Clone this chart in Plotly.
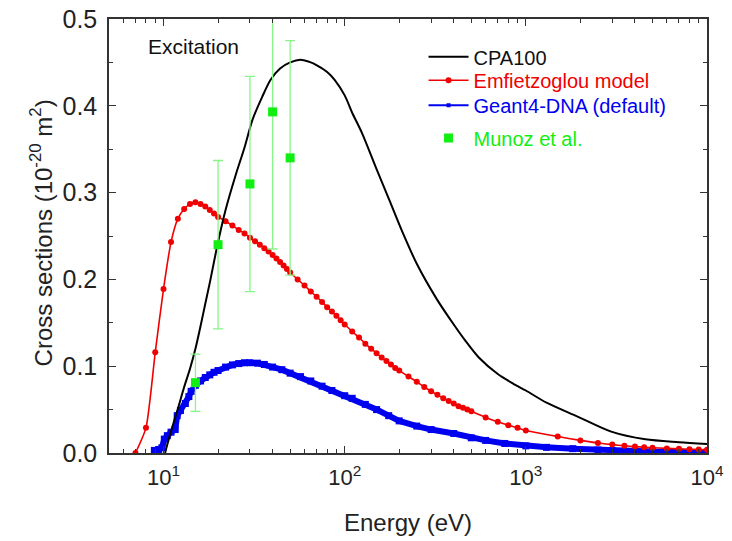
import plotly.graph_objects as go

# ---- data ----
cpa_E = [10.2, 10.5, 11, 12, 13, 14, 15, 16, 17, 18, 20, 22, 25, 28, 31, 35, 39, 44, 50, 57,
         65, 71, 80, 88, 100, 110, 125, 148, 176, 209, 250, 323, 400, 461, 550, 700, 850,
         1000, 1300, 1930, 2960, 4570, 7000, 10000]
cpa_sigma = [0.000, 0.010, 0.025, 0.051, 0.076, 0.097, 0.120, 0.146, 0.172, 0.196, 0.243,
             0.280, 0.320, 0.352, 0.384, 0.410, 0.430, 0.443, 0.450, 0.453, 0.450, 0.446,
             0.439, 0.430, 0.412, 0.392, 0.368, 0.330, 0.292, 0.254, 0.218, 0.177, 0.148,
             0.130, 0.110, 0.091, 0.080, 0.072, 0.058, 0.042, 0.0246, 0.0158, 0.0125, 0.0104]

emf_E = [7, 8, 9, 10, 11, 12, 13, 14, 15, 16, 17, 18, 19, 20, 22, 24, 26, 28, 30, 32, 34, 36,
         38, 40, 42, 44, 46, 48, 50, 55, 60, 65, 70, 75, 80, 85, 90, 95, 100, 110, 120, 130,
         140, 150, 160, 170, 180, 190, 200, 225, 250, 275, 300, 325, 350, 375, 400, 425, 450,
         475, 500, 600, 700, 800, 900, 1000, 1500, 2000, 2500, 3000, 3500, 4000, 4500, 5000,
         6000, 7000, 8000, 9000, 10000]
emf_sigma = [0.000, 0.029, 0.116, 0.189, 0.243, 0.270, 0.281, 0.287, 0.289, 0.287, 0.284,
             0.280, 0.276, 0.272, 0.267, 0.262, 0.257, 0.253, 0.248, 0.244, 0.240, 0.236,
             0.232, 0.228, 0.224, 0.220, 0.216, 0.212, 0.208, 0.200, 0.193, 0.186, 0.180,
             0.174, 0.168, 0.163, 0.158, 0.153, 0.148, 0.140, 0.133, 0.126, 0.120, 0.115,
             0.110, 0.106, 0.102, 0.098, 0.095, 0.088, 0.082, 0.076, 0.071, 0.067, 0.063,
             0.060, 0.057, 0.054, 0.052, 0.050, 0.048, 0.041, 0.036, 0.032, 0.029, 0.026,
             0.019, 0.0145, 0.0115, 0.0097, 0.0083, 0.0074, 0.0067, 0.0061, 0.0053, 0.0048,
             0.0044, 0.0041, 0.0038]

g4_E = [8.9, 9.4, 9.8, 10.1, 10.5, 11.0, 11.6, 11.9, 12.4, 13.2, 13.8, 14.2, 15, 16, 17, 18,
        19, 20, 22, 24, 26, 28, 30, 33, 36, 40, 45, 50, 57, 65, 75, 85, 100, 110, 130, 150,
        175, 200, 250, 300, 400, 500, 600, 765, 1000, 1300, 1815, 2500, 3000, 4000, 5000,
        7000, 10000]
g4_sigma = [0.003, 0.004, 0.006, 0.016, 0.020, 0.024, 0.027, 0.043, 0.049, 0.057, 0.065,
            0.071, 0.078, 0.083, 0.087, 0.090, 0.093, 0.095, 0.099, 0.1015, 0.103, 0.104,
            0.104, 0.1035, 0.102, 0.099, 0.096, 0.092, 0.088, 0.083, 0.077, 0.072, 0.066,
            0.063, 0.056, 0.050, 0.043, 0.037, 0.031, 0.027, 0.0225, 0.0175, 0.0145, 0.011,
            0.0082, 0.0065, 0.005, 0.0035, 0.0027, 0.0020, 0.0016, 0.0012, 0.0010]

munoz_E = [15, 20, 30, 40, 50]
munoz_sigma = [0.081, 0.240, 0.310, 0.393, 0.340]
munoz_err = [0.033, 0.097, 0.124, 0.158, 0.135]

x_tickvals = [10, 100, 1000, 10000]
x_ticktext = ["10<sup>1</sup>", "10<sup>2</sup>", "10<sup>3</sup>", "10<sup>4</sup>"]

RED = "#f00000"
BLUE = "#0000f0"
GREEN = "#11ee11"
FONT = "Arial, Liberation Sans, sans-serif"

fig = go.Figure()

# Geant4-DNA (dense band of markers)
fig.add_trace(go.Scatter(
    x=g4_E, y=g4_sigma, mode="lines+markers",
    line=dict(color=BLUE, width=6),
    marker=dict(symbol="square", size=7, color=BLUE),
    showlegend=False))

# Emfietzoglou
fig.add_trace(go.Scatter(
    x=emf_E, y=emf_sigma, mode="lines+markers",
    line=dict(color=RED, width=1.6, shape="spline", smoothing=0.6),
    marker=dict(symbol="circle", size=6, color=RED),
    name="<span style='color:%s'>Emfietzoglou model</span>" % RED,
    legend="legend2"))

# CPA100
fig.add_trace(go.Scatter(
    x=cpa_E, y=cpa_sigma, mode="lines",
    line=dict(color="black", width=2, shape="spline", smoothing=0.8),
    name="CPA100", legend="legend"))

# legend entry for Geant4-DNA
fig.add_trace(go.Scatter(
    x=[None], y=[None], mode="lines+markers",
    line=dict(color=BLUE, width=2),
    marker=dict(symbol="square", size=4, color=BLUE),
    name="<span style='color:%s'>Geant4-DNA (default)</span>" % BLUE,
    legend="legend3"))

# Munoz et al.
fig.add_trace(go.Scatter(
    x=munoz_E, y=munoz_sigma, mode="markers",
    marker=dict(symbol="square", size=9, color=GREEN),
    error_y=dict(type="data", array=munoz_err, visible=True,
                 color="#88f588", thickness=1.3, width=5),
    name="<span style='color:%s'>Munoz et al.</span>" % GREEN,
    legend="legend4"))

axis_common = dict(
    showline=True, linecolor="#333333", linewidth=1.5, mirror="ticks",
    ticks="inside", tickcolor="#333333", ticklen=7, tickwidth=1.3,
    showgrid=False, zeroline=False, automargin=False, ticklabeloverflow="allow",
)

fig.update_xaxes(
    type="log", range=[0.699, 4.0], tickvals=x_tickvals, ticktext=x_ticktext,
    tickfont=dict(size=22, color="#222"), ticklabelstandoff=4,
    minor=dict(ticks="inside", ticklen=4, tickcolor="#333333", tickwidth=1.2, dtick="D1",
               showgrid=False),
    **axis_common)

fig.update_yaxes(
    range=[0, 0.5], dtick=0.1, tickformat=".1f",
    tickfont=dict(size=25, color="#222"), ticklabelstandoff=5,
    minor=dict(ticks="inside", ticklen=4, tickcolor="#333333", tickwidth=1.2, dtick=0.05),
    **axis_common)

# axis titles and panel label
fig.add_annotation(
    text="Energy (eV)", xref="paper", yref="paper", x=0.5, y=-0.159,
    xanchor="center", yanchor="middle", showarrow=False,
    font=dict(size=24, color="#222", family=FONT))
fig.add_annotation(
    text="Cross sections (10<sup>-20</sup> m<sup>2</sup>)", xref="paper", yref="paper",
    x=-0.113, y=0.507, xanchor="center", yanchor="middle", textangle=-90, showarrow=False,
    font=dict(size=24, color="#222", family=FONT))
fig.add_annotation(
    text="Excitation", xref="paper", yref="paper", x=0.062, y=0.937,
    xanchor="left", yanchor="middle", showarrow=False,
    font=dict(size=21, color="#111", family=FONT))

leg_common = dict(x=0.526, xanchor="left", yanchor="middle",
                  bgcolor="rgba(0,0,0,0)", font=dict(size=20, family=FONT, color="#111"),
                  itemwidth=40)

fig.update_layout(
    width=732, height=541,
    margin=dict(l=109, r=25, t=19, b=88),
    paper_bgcolor="white", plot_bgcolor="white",
    font=dict(family=FONT, size=20, color="#111"),
    legend=dict(y=0.913, **leg_common),
    legend2=dict(y=0.859, **leg_common),
    legend3=dict(y=0.801, **leg_common),
    legend4=dict(y=0.726, **leg_common),
)

# remove the default page margin so the 732x541 canvas fills the window exactly
fig.write_html("out.html",
               config={"displayModeBar": False},
               post_script="document.body.style.margin='0px';document.body.style.overflow='hidden';")
